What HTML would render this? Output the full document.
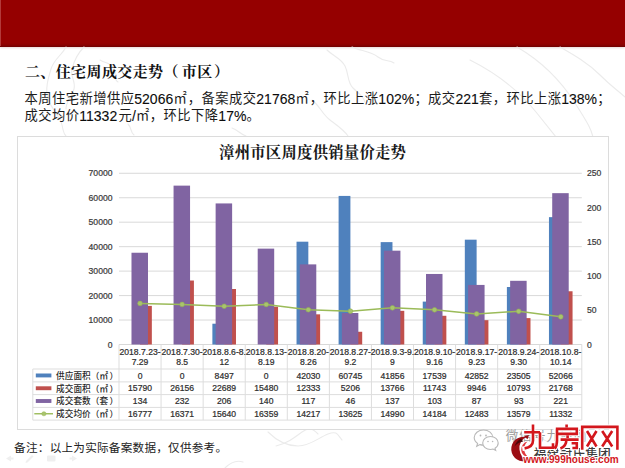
<!DOCTYPE html>
<html lang="zh-CN">
<head>
<meta charset="utf-8">
<title>二、住宅周成交走势（市区）</title>
<style>
html,body{margin:0;padding:0;background:#fff;}
body{width:625px;height:468px;overflow:hidden;position:relative;font-family:"Liberation Sans",sans-serif;}
#band{position:absolute;left:0;top:0;width:625px;height:47px;background:linear-gradient(to bottom,#950000 0,#950000 43px,#8a0000 45px,#6e0000 47px);box-shadow:0 1px 2px rgba(150,70,70,.22);}
#band:before{content:"";position:absolute;left:0;top:0;width:1px;height:46px;background:#b33a3a;}
#sr{position:absolute;left:0;top:0;width:1px;height:1px;overflow:hidden;opacity:0;font-size:1px;}
svg{position:absolute;left:0;top:0;font-family:"Liberation Sans",sans-serif;}
.cjk{font-family:"Liberation Sans","Noto Sans CJK SC",sans-serif;}
.cjkserif{font-family:"Liberation Serif","Noto Serif CJK SC",serif;font-weight:bold;}
</style>
</head>
<body>
<div id="band"></div>
<div id="sr">
<h1>二、住宅周成交走势（市区）</h1>
<p>本周住宅新增供应52066㎡，备案成交21768㎡，环比上涨102%；成交221套，环比上涨138%；成交均价11332元/㎡，环比下降17%。</p>
<h2>漳州市区周度供销量价走势</h2>
<p>供应面积（㎡） 成交面积（㎡） 成交套数（套） 成交均价（㎡）</p>
<p>备注：以上为实际备案数据，仅供参考。</p>
</div>
<svg width="625" height="468" viewBox="0 0 625 468">
<g fill="none" stroke="#ebebeb" stroke-width="1.1" stroke-linecap="round" stroke-linejoin="round">
<path d="M66 47c-4 8-12 12-15 22s-6 20-3 30 12 16 14 26 2 8 4 11"/>
<path d="M84 47c-6 6-10 14-12 22s4 12 2 20-8 12-8 20"/>
<path d="M100 60c6 4 10 2 14 8s-2 10 4 14"/>
<path d="M128 124c4 4 2 8 6 11M232 128c6 2 8 6 14 8"/>
<path d="M327 50c6 6 14 8 18 16s2 16 8 22 10 8 12 14"/>
<path d="M352 47c8 4 18 4 26 10s10 2 16 6"/>
<path d="M312 100c8 6 10 14 18 20s14 10 18 16"/>
<path d="M517 47c24 14 44 34 58 56s16 26 18 34"/>
<path d="M470 60c28 14 50 32 66 52s16 20 20 25"/>
<path d="M560 47c14 8 28 16 40 28s16 14 25 22"/>
<path d="M268 432c8 8 18 14 30 14s20-8 30-12 10 2 14 6"/>
<path d="M276 446c10-2 18-8 26-14s12-2 16 2"/>
<path d="M225 468c6-6 12-8 18-6M520 432c10 6 20 4 28 10"/>
</g>
<g fill="#111"><text class="cjkserif" x="24.99" y="77.1" font-size="15" letter-spacing="0.38">二、住宅周成交走势<tspan x="163.41">（</tspan><tspan x="181.79">市区</tspan><tspan x="214.05">）</tspan></text></g>
<g fill="#1c1c1c"><text class="cjk" x="24.52" y="103.35" font-size="13.3" letter-spacing="0.45">本周住宅新增供应</text><text x="134.3" y="103.75" font-size="14" fill="#0c0c0c" stroke="#0c0c0c" stroke-width="0.1">52066</text><text class="cjk" x="173.46" y="103.35" font-size="13.3" letter-spacing="0.45">㎡<tspan x="187.81">，备案成交</tspan></text><text x="256.33" y="103.75" font-size="14" fill="#0c0c0c" stroke="#0c0c0c" stroke-width="0.1">21768</text><text class="cjk" x="295.49" y="103.35" font-size="13.3" letter-spacing="0.45">㎡<tspan x="309.84">，环比上涨</tspan></text><text x="378.36" y="103.75" font-size="14" fill="#0c0c0c" stroke="#0c0c0c" stroke-width="0.1">102%</text><text class="cjk" x="414.39" y="103.35" font-size="13.3" letter-spacing="0.45">；成交</text><text x="455.42" y="103.75" font-size="14" fill="#0c0c0c" stroke="#0c0c0c" stroke-width="0.1">221</text><text class="cjk" x="479" y="103.35" font-size="13.3" letter-spacing="0.45">套，环比上涨</text><text x="561.28" y="103.75" font-size="14" fill="#0c0c0c" stroke="#0c0c0c" stroke-width="0.1">138%</text><text class="cjk" x="597.31" y="103.35" font-size="13.3">；</text></g>
<g fill="#1c1c1c"><text class="cjk" x="24.52" y="120.15" font-size="13.3" letter-spacing="0.45">成交均价</text><text x="79.3" y="120.55" font-size="14" fill="#0c0c0c" stroke="#0c0c0c" stroke-width="0.1">11332</text><text class="cjk" x="118.46" y="120.15" font-size="13.3">元</text><text x="131.98" y="120.55" font-size="14" fill="#0c0c0c" stroke="#0c0c0c" stroke-width="0.1">/</text><text class="cjk" x="136.1" y="120.15" font-size="13.3" letter-spacing="0.45">㎡，环比下降</text><text x="218.37" y="120.55" font-size="14" fill="#0c0c0c" stroke="#0c0c0c" stroke-width="0.1">17%</text><text class="cjk" x="246.62" y="120.15" font-size="13.3">。</text></g>
<rect x="17.5" y="136.5" width="591" height="293" fill="#fff" stroke="#dcdcdc"/>
<g fill="#1a1a1a"><text class="cjkserif" x="219.1" y="157.9" font-size="15.4" letter-spacing="0.2">漳州市区周度供销量价走势</text></g>
<g stroke="#d9d9d9" stroke-width="1">
<line x1="119" y1="344.5" x2="581.8" y2="344.5"/>
<line x1="119" y1="320.04" x2="581.8" y2="320.04"/>
<line x1="119" y1="295.58" x2="581.8" y2="295.58"/>
<line x1="119" y1="271.12" x2="581.8" y2="271.12"/>
<line x1="119" y1="246.66" x2="581.8" y2="246.66"/>
<line x1="119" y1="222.2" x2="581.8" y2="222.2"/>
<line x1="119" y1="197.74" x2="581.8" y2="197.74"/>
<line x1="119" y1="173.28" x2="581.8" y2="173.28"/>
</g>
<g fill="#3a3a3a" stroke="#3a3a3a" stroke-width="0.22" font-size="8.6">
<text x="112.5" y="347.6" text-anchor="end">0</text>
<text x="112.5" y="323.14" text-anchor="end">10000</text>
<text x="112.5" y="298.68" text-anchor="end">20000</text>
<text x="112.5" y="274.22" text-anchor="end">30000</text>
<text x="112.5" y="249.76" text-anchor="end">40000</text>
<text x="112.5" y="225.3" text-anchor="end">50000</text>
<text x="112.5" y="200.84" text-anchor="end">60000</text>
<text x="112.5" y="176.38" text-anchor="end">70000</text>
<text x="587" y="347.6">0</text>
<text x="587" y="313.36">50</text>
<text x="587" y="279.12">100</text>
<text x="587" y="244.88">150</text>
<text x="587" y="210.64">200</text>
<text x="587" y="176.4">250</text>
</g>
<rect x="140.04" y="305.88" width="11.8" height="38.62" fill="#c0504d"/>
<rect x="182.11" y="280.52" width="11.8" height="63.98" fill="#c0504d"/>
<rect x="212.38" y="323.72" width="11.8" height="20.78" fill="#4f81bd"/>
<rect x="224.18" y="289" width="11.8" height="55.5" fill="#c0504d"/>
<rect x="266.25" y="306.64" width="11.8" height="37.86" fill="#c0504d"/>
<rect x="296.53" y="241.69" width="11.8" height="102.81" fill="#4f81bd"/>
<rect x="308.33" y="314.33" width="11.8" height="30.17" fill="#c0504d"/>
<rect x="338.6" y="195.92" width="11.8" height="148.58" fill="#4f81bd"/>
<rect x="350.4" y="331.77" width="11.8" height="12.73" fill="#c0504d"/>
<rect x="380.67" y="242.12" width="11.8" height="102.38" fill="#4f81bd"/>
<rect x="392.47" y="310.83" width="11.8" height="33.67" fill="#c0504d"/>
<rect x="422.75" y="301.6" width="11.8" height="42.9" fill="#4f81bd"/>
<rect x="434.55" y="315.78" width="11.8" height="28.72" fill="#c0504d"/>
<rect x="464.82" y="239.68" width="11.8" height="104.82" fill="#4f81bd"/>
<rect x="476.62" y="320.17" width="11.8" height="24.33" fill="#c0504d"/>
<rect x="506.89" y="287.01" width="11.8" height="57.49" fill="#4f81bd"/>
<rect x="518.69" y="318.1" width="11.8" height="26.4" fill="#c0504d"/>
<rect x="548.96" y="217.15" width="11.8" height="127.35" fill="#4f81bd"/>
<rect x="560.76" y="291.26" width="11.8" height="53.24" fill="#c0504d"/>
<rect x="131.49" y="252.74" width="16.5" height="91.76" fill="#8064a2"/>
<rect x="173.56" y="185.63" width="16.5" height="158.87" fill="#8064a2"/>
<rect x="215.63" y="203.43" width="16.5" height="141.07" fill="#8064a2"/>
<rect x="257.7" y="248.63" width="16.5" height="95.87" fill="#8064a2"/>
<rect x="299.78" y="264.38" width="16.5" height="80.12" fill="#8064a2"/>
<rect x="341.85" y="313" width="16.5" height="31.5" fill="#8064a2"/>
<rect x="383.92" y="250.68" width="16.5" height="93.82" fill="#8064a2"/>
<rect x="426" y="273.97" width="16.5" height="70.53" fill="#8064a2"/>
<rect x="468.07" y="284.92" width="16.5" height="59.58" fill="#8064a2"/>
<rect x="510.14" y="280.81" width="16.5" height="63.69" fill="#8064a2"/>
<rect x="552.21" y="193.16" width="16.5" height="151.34" fill="#8064a2"/>
<polyline fill="none" stroke="#9bbb59" stroke-width="1.500" stroke-linejoin="round" points="140.04,303.46 182.11,304.46 224.18,306.24 266.25,304.49 308.33,309.73 350.4,311.17 392.47,307.83 434.55,309.81 476.62,313.97 518.69,311.29 560.76,316.78"/>
<circle cx="140.04" cy="303.46" r="2.350" fill="#a9c46e" stroke="#93b350" stroke-width="0.6"/>
<circle cx="182.11" cy="304.46" r="2.350" fill="#a9c46e" stroke="#93b350" stroke-width="0.6"/>
<circle cx="224.18" cy="306.24" r="2.350" fill="#a9c46e" stroke="#93b350" stroke-width="0.6"/>
<circle cx="266.25" cy="304.49" r="2.350" fill="#a9c46e" stroke="#93b350" stroke-width="0.6"/>
<circle cx="308.33" cy="309.73" r="2.350" fill="#a9c46e" stroke="#93b350" stroke-width="0.6"/>
<circle cx="350.4" cy="311.17" r="2.350" fill="#a9c46e" stroke="#93b350" stroke-width="0.6"/>
<circle cx="392.47" cy="307.83" r="2.350" fill="#a9c46e" stroke="#93b350" stroke-width="0.6"/>
<circle cx="434.55" cy="309.81" r="2.350" fill="#a9c46e" stroke="#93b350" stroke-width="0.6"/>
<circle cx="476.62" cy="313.97" r="2.350" fill="#a9c46e" stroke="#93b350" stroke-width="0.6"/>
<circle cx="518.69" cy="311.29" r="2.350" fill="#a9c46e" stroke="#93b350" stroke-width="0.6"/>
<circle cx="560.76" cy="316.78" r="2.350" fill="#a9c46e" stroke="#93b350" stroke-width="0.6"/>
<g stroke="#dddddd" stroke-width="1" fill="none">
<line x1="119" y1="344.5" x2="119" y2="420.1"/>
<line x1="161.07" y1="344.5" x2="161.07" y2="420.1"/>
<line x1="203.15" y1="344.5" x2="203.15" y2="420.1"/>
<line x1="245.22" y1="344.5" x2="245.22" y2="420.1"/>
<line x1="287.29" y1="344.5" x2="287.29" y2="420.1"/>
<line x1="329.36" y1="344.5" x2="329.36" y2="420.1"/>
<line x1="371.44" y1="344.5" x2="371.44" y2="420.1"/>
<line x1="413.51" y1="344.5" x2="413.51" y2="420.1"/>
<line x1="455.58" y1="344.5" x2="455.58" y2="420.1"/>
<line x1="497.65" y1="344.5" x2="497.65" y2="420.1"/>
<line x1="539.73" y1="344.5" x2="539.73" y2="420.1"/>
<line x1="581.8" y1="344.5" x2="581.8" y2="420.1"/>
<line x1="32.8" y1="369" x2="581.8" y2="369"/>
<line x1="32.8" y1="381.9" x2="581.8" y2="381.9"/>
<line x1="32.8" y1="394.6" x2="581.8" y2="394.6"/>
<line x1="32.8" y1="407.4" x2="581.8" y2="407.4"/>
<line x1="32.8" y1="420.1" x2="581.8" y2="420.1"/>
<line x1="32.8" y1="369" x2="32.8" y2="420.1"/>
</g>
<g fill="#2e2e2e" stroke="#2e2e2e" stroke-width="0.22" font-size="8.6" text-anchor="middle">
<text x="140.04" y="354.700">2018.7.23-</text>
<text x="140.04" y="364.9">7.29</text>
<text x="140.04" y="378.55">0</text>
<text x="140.04" y="391.35">15790</text>
<text x="140.04" y="404.1">134</text>
<text x="140.04" y="416.85">16777</text>
<text x="182.11" y="354.700">2018.7.30-</text>
<text x="182.11" y="364.9">8.5</text>
<text x="182.11" y="378.55">0</text>
<text x="182.11" y="391.35">26156</text>
<text x="182.11" y="404.1">232</text>
<text x="182.11" y="416.85">16371</text>
<text x="224.18" y="354.700">2018.8.6-8.</text>
<text x="224.18" y="364.9">12</text>
<text x="224.18" y="378.55">8497</text>
<text x="224.18" y="391.35">22689</text>
<text x="224.18" y="404.1">206</text>
<text x="224.18" y="416.85">15640</text>
<text x="266.25" y="354.700">2018.8.13-</text>
<text x="266.25" y="364.9">8.19</text>
<text x="266.25" y="378.55">0</text>
<text x="266.25" y="391.35">15480</text>
<text x="266.25" y="404.1">140</text>
<text x="266.25" y="416.85">16359</text>
<text x="308.33" y="354.700">2018.8.20-</text>
<text x="308.33" y="364.9">8.26</text>
<text x="308.33" y="378.55">42030</text>
<text x="308.33" y="391.35">12333</text>
<text x="308.33" y="404.1">117</text>
<text x="308.33" y="416.85">14217</text>
<text x="350.4" y="354.700">2018.8.27-</text>
<text x="350.4" y="364.9">9.2</text>
<text x="350.4" y="378.55">60745</text>
<text x="350.4" y="391.35">5206</text>
<text x="350.4" y="404.1">46</text>
<text x="350.4" y="416.85">13625</text>
<text x="392.47" y="354.700">2018.9.3-9.</text>
<text x="392.47" y="364.9">9</text>
<text x="392.47" y="378.55">41856</text>
<text x="392.47" y="391.35">13766</text>
<text x="392.47" y="404.1">137</text>
<text x="392.47" y="416.85">14990</text>
<text x="434.55" y="354.700">2018.9.10-</text>
<text x="434.55" y="364.9">9.16</text>
<text x="434.55" y="378.55">17539</text>
<text x="434.55" y="391.35">11743</text>
<text x="434.55" y="404.1">103</text>
<text x="434.55" y="416.85">14184</text>
<text x="476.62" y="354.700">2018.9.17-</text>
<text x="476.62" y="364.9">9.23</text>
<text x="476.62" y="378.55">42852</text>
<text x="476.62" y="391.35">9946</text>
<text x="476.62" y="404.1">87</text>
<text x="476.62" y="416.85">12483</text>
<text x="518.69" y="354.700">2018.9.24-</text>
<text x="518.69" y="364.9">9.30</text>
<text x="518.69" y="378.55">23505</text>
<text x="518.69" y="391.35">10793</text>
<text x="518.69" y="404.1">93</text>
<text x="518.69" y="416.85">13579</text>
<text x="560.76" y="354.700">2018.10.8-</text>
<text x="560.76" y="364.9">10.14</text>
<text x="560.76" y="378.55">52066</text>
<text x="560.76" y="391.35">21768</text>
<text x="560.76" y="404.1">221</text>
<text x="560.76" y="416.85">11332</text>
</g>
<rect x="35.800" y="373.5" width="15.600" height="3.900" fill="#4f81bd"/>
<rect x="35.800" y="386.3" width="15.600" height="3.900" fill="#c0504d"/>
<rect x="35.800" y="399.05" width="15.600" height="3.900" fill="#8064a2"/>
<line x1="34.300" y1="413.75" x2="53" y2="413.75" stroke="#9bbb59" stroke-width="1.400"/>
<circle cx="43.900" cy="413.75" r="2.100" fill="#a9c46e" stroke="#93b350" stroke-width="0.5"/>
<g fill="#2a2a2a"><text class="cjk" x="56.03" y="378.75" font-size="8.65" font-weight="500" letter-spacing="0.07">供应面积（㎡<tspan x="109.55">）</tspan></text></g>
<g fill="#2a2a2a"><text class="cjk" x="56.03" y="391.55" font-size="8.65" font-weight="500" letter-spacing="0.07">成交面积（㎡<tspan x="109.55">）</tspan></text></g>
<g fill="#2a2a2a"><text class="cjk" x="56.03" y="404.3" font-size="8.65" font-weight="500" letter-spacing="0.07">成交套数（套<tspan x="109.55">）</tspan></text></g>
<g fill="#2a2a2a"><text class="cjk" x="56.03" y="417.05" font-size="8.65" font-weight="500" letter-spacing="0.07">成交均价（㎡<tspan x="109.55">）</tspan></text></g>
<g fill="#222"><text class="cjk" x="14.12" y="451.85" font-size="11.6" letter-spacing="0.25">备注：以上为实际备案数据，仅供参考。</text></g>
<g fill="#efefef"><path d="M6 458.500l5-3v2h2.500v2h-2.500v2z"/><path d="M26 461l6-6 1.500 1.500-6 6-2 .5z"/><rect x="47" y="455.500" width="8.500" height="6" rx="1"/><path d="M77 458.500l-5-3v2h-2.500v2h2.500v2z"/></g>
<g fill="#fff" stroke="#b9b9b9" stroke-width="1.1">
<path d="M483.5 430c-5.2 0-9.3 3.4-9.3 7.6 0 2.4 1.3 4.5 3.4 5.9l-0.9 2.8 3.2-1.7c1.1 0.3 2.3 0.5 3.6 0.5 5.1 0 9.3-3.4 9.3-7.6s-4.2-7.5-9.3-7.5z"/>
<path d="M490.5 436.5c-4.3 0-7.8 2.9-7.8 6.5s3.5 6.5 7.8 6.5c0.9 0 1.8-0.1 2.6-0.4l2.6 1.4-0.7-2.3c1.9-1.2 3.2-3.1 3.2-5.2 0-3.6-3.4-6.500-7.700-6.500z"/>
</g>
<g fill="#b9b9b9"><circle cx="480.5" cy="435.500" r="0.9"/><circle cx="486" cy="435.500" r="0.9"/><circle cx="488" cy="441.500" r="0.8"/><circle cx="492.6" cy="441.500" r="0.8"/></g>
<g fill="#9c9c9c"><text class="cjk" x="505.7" y="440" font-size="12.6" letter-spacing="1">微信号九房网</text></g>
<g fill="#3c3c3c"><text class="cjk" x="533.65" y="458" font-size="12.8" font-weight="500" letter-spacing="0.1">福建冠氏集团</text></g>
<g><path d="M526 437A12.300 12.300 0 1 0 528 460.500A13 13 0 0 1 526 437Z" fill="#9c0d13"/><path d="M521 438.500c-3 1.500-5.500 4.500-6.500 8 2-2.500 5-4.500 8.500-5z" fill="#4a0609"/><path d="M527.500 441.500A8.100 8.100 0 0 0 529 457.500A10 10 0 0 1 527.500 441.500Z" fill="#e03a3f"/><path d="M524 436.200l5-1.200-1.500 4.200z" fill="#9c0d13"/></g>
<path d="M524.2 432.2H540M533 424.6V440.500Q533 447 524.6 448.400M540 432.200V447.700H553V443.200M566.6 424.4V427.2M555.8 428.900H576.8V433.900H557M557 428.900V440.500Q557 446 554.8 448.600M567.6 435.400V438M560.6 439.600H578.6M566.4 439.600Q566.4 446.500 560.400 448.600M571.6 443.200H576.8V448H572.400M582.2 449.700V426.900H617.4V449.700M587 431L596.500 446.500M596.500 431L587 446.500M602.2 431L612.2 446.500M612.2 431L602.2 446.500" fill="none" stroke="#fff" stroke-width="4.6" stroke-linejoin="miter" stroke-linecap="square"/>
<path d="M524.2 432.2H540M533 424.6V440.500Q533 447 524.6 448.400M540 432.200V447.700H553V443.200M566.6 424.4V427.2M555.8 428.900H576.8V433.900H557M557 428.900V440.500Q557 446 554.8 448.600M567.6 435.400V438M560.6 439.600H578.6M566.4 439.600Q566.4 446.500 560.400 448.600M571.6 443.200H576.8V448H572.400M582.2 449.700V426.900H617.4V449.700M587 431L596.500 446.500M596.500 431L587 446.500M602.2 431L612.2 446.500M612.2 431L602.2 446.500" fill="none" stroke="#d3171d" stroke-width="2.600" stroke-linejoin="miter" stroke-linecap="butt"/>
<text x="523.2" y="463.2" font-size="10.9" font-weight="bold" fill="#d3171d" stroke="#fff" stroke-width="2" paint-order="stroke" textLength="95.500" lengthAdjust="spacingAndGlyphs">www.999house.com</text>
</svg>
</body>
</html>
